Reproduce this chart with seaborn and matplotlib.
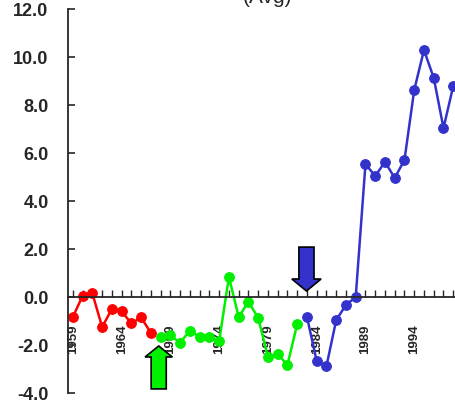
import matplotlib
matplotlib.use("Agg")
import matplotlib.pyplot as plt
import matplotlib.patches as mpatches
import numpy as np
import pandas as pd
import seaborn as sb

#Data
red_years = list(range(1959, 1968))
red_vals = [-0.83, 0.05, 0.15, -1.25, -0.5, -0.6, -1.1, -0.85, -1.5]
green_years = list(range(1968, 1983))
green_vals = [-1.67, -1.6, -1.9, -1.4, -1.67, -1.67, -1.83, 0.83, -0.83, -0.2, -0.87, -2.5, -2.38, -2.83, -1.13]
blue_years = list(range(1983, 1999))
blue_vals = [-0.83, -2.67, -2.88, -0.96, -0.33, 0.0, 5.54, 5.04, 5.63, 4.96, 5.71, 8.63, 10.29, 9.13, 7.04, 8.79]
label_years = [1959, 1964, 1969, 1974, 1979, 1984, 1989, 1994]
y_ticks = [-4.0, -2.0, 0.0, 2.0, 4.0, 6.0, 8.0, 10.0, 12.0]

#Style
sb.set_style("ticks")
plt.rcParams['font.family'] = ['Liberation Sans', 'DejaVu Sans']

fig = plt.figure(figsize = (4.55, 4.14), dpi = 100)
ax = fig.add_axes([68 / 455, 20 / 414, 395 / 455, 384 / 414])

#Series
segments = [(red_years, red_vals, '#ff0000'),
            (green_years, green_vals, '#00f000'),
            (blue_years, blue_vals, '#3333cc')]
for yrs, vals, col in segments:
    df = pd.DataFrame({'year': yrs, 'value': vals})
    sb.lineplot(data = df, x = 'year', y = 'value', color = col, marker = 'o',
                markersize = 7, markeredgecolor = col, linewidth = 1.8, ax = ax)

#Block arrows
ax.add_patch(mpatches.FancyArrow(1967.8, -3.83, 0, 1.79, width = 1.55, head_width = 2.8,
                                 head_length = 0.46, length_includes_head = True,
                                 facecolor = '#00f000', edgecolor = 'black', linewidth = 1.2, zorder = 5))
ax.add_patch(mpatches.FancyArrow(1982.95, 2.08, 0, -1.83, width = 1.55, head_width = 3.0,
                                 head_length = 0.5, length_includes_head = True,
                                 facecolor = '#3333cc', edgecolor = 'black', linewidth = 1.2, zorder = 5))

#Axes
ax.set_xlim(1958.5, 1999)
ax.set_ylim(-4, 12)
ax.spines['top'].set_visible(False)
ax.spines['right'].set_visible(False)
ax.spines['bottom'].set_position(('data', 0))
ax.spines['bottom'].set_linewidth(1.3)
ax.spines['left'].set_linewidth(1.3)

all_years = list(range(1959, 1999))
ax.set_xticks(all_years)
ax.set_xticklabels([str(yr) if yr in label_years else '' for yr in all_years],
                   rotation = 90, fontsize = 9.5, fontweight = 'bold', va = 'top')
ax.tick_params(axis = 'x', direction = 'in', length = 5, width = 1, pad = 19)

ax.set_yticks(y_ticks)
ax.set_yticklabels(['%.1f' % v for v in y_ticks], fontsize = 13, fontweight = 'bold')
ax.tick_params(axis = 'y', direction = 'in', length = 5, width = 1.2, pad = 14)

ax.set_xlabel('')
ax.set_ylabel('')

#Title (clipped at top in the reference)
fig.text(267 / 455, 1 - 3 / 414, '(Avg)', ha = 'center', va = 'baseline', fontsize = 15)

fig.savefig('out.png', dpi = 100)
